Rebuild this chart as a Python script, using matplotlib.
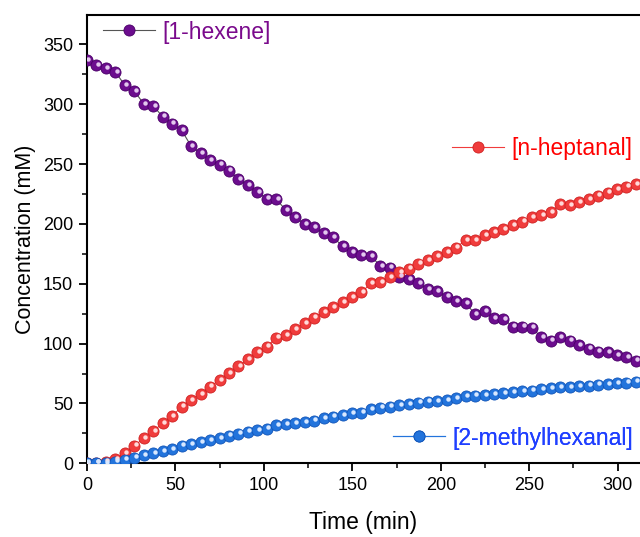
import numpy as np
import matplotlib
matplotlib.use("Agg")
import matplotlib.pyplot as plt
from matplotlib.lines import Line2D
from matplotlib.ticker import MultipleLocator
import matplotlib.transforms as mtransforms

plt.rcParams['font.family'] = ['Liberation Sans', 'DejaVu Sans']

dt = 5.35
time_min = [round(i * dt, 2) for i in range(59)]

hexene = [337, 332.6, 330, 326.9, 315.8, 311, 300.2, 298.5, 289.6, 283.7,
          278.2, 265, 259, 253.4, 249.5, 244.4, 237.5, 232.2, 226.7, 221,
          220.6, 211.6, 205.6, 199.7, 197.2, 192.1, 188.8, 181.5, 176.5, 173.8,
          173.2, 164.8, 163.4, 155.9, 154, 150.4, 145.6, 143.9, 139.2, 135.6,
          133.7, 124.8, 127.0, 121.4, 120.6, 114.1, 114.1, 113.3, 105.3, 102.4,
          105.3, 102.4, 98.8, 95.7, 93.2, 92.7, 90.2, 88.6, 85.7]

heptanal = [0, 0.5, 1.3, 3.6, 8.4, 14.7, 20.9, 27, 33.4, 39.5,
            47.3, 52.9, 58.1, 64, 69.6, 75.2, 81, 86.9, 92.7, 97.4,
            104.9, 107.2, 112.4, 117, 121.6, 126.1, 130.3, 134.5, 138.7, 142.8,
            150.4, 151.2, 155.4, 159.8, 162.6, 166.8, 169.8, 173.2, 176.5, 180.1,
            186.5, 186.5, 190.7, 193, 195.6, 199.1, 201.8, 205.5, 207.4, 209.7,
            216.6, 215.8, 218, 220.8, 223.6, 226.1, 228.9, 231.1, 233.3]

methylhexanal = [0.6, 0.5, 0.4, 1.4, 3.0, 4.7, 6.7, 8.4, 10.0, 11.7,
                 14.7, 16.2, 17.6, 19.5, 21.2, 23.2, 24.7, 26.4, 27.6, 28.9,
                 31.7, 32.6, 33.7, 34.5, 35.6, 37.6, 38.9, 40.4, 41.8, 42.3,
                 45.4, 46.5, 47.3, 48.5, 49.6, 50.6, 51.5, 52.1, 52.9, 54.3,
                 56.2, 56.5, 57.1, 57.9, 58.5, 59.6, 60.2, 60.7, 62.1, 62.7,
                 63.5, 63.8, 64.3, 64.8, 65.7, 66.3, 66.8, 67.3, 68.2]

labels = ['[1-hexene]', '[n-heptanal]', '[2-methylhexanal]']

series = [
    dict(y=hexene, face='#6C0D8E', edge='#4A0068', hl='#E3C8EE', line='#555555', text='#7A0A8C'),
    dict(y=heptanal, face='#F03C3C', edge='#D02222', hl='#FFDADA', line='#F03C3C', text='#FF0000'),
    dict(y=methylhexanal, face='#2374DC', edge='#1255B8', hl='#D8E8FF', line='#2374DC', text='#1F3FFF'),
]

fig = plt.figure(figsize=(6.4, 5.37), dpi=100)
ax = fig.add_axes([87/640, 1 - 463.3/537, 1 - 87/640, (463.3 - 15)/537])

hl_trans = mtransforms.offset_copy(ax.transData, fig=fig, x=0.9, y=0.9, units='points')

for s in series:
    ax.plot(time_min, s['y'], '-', color=s['line'], lw=0.8, zorder=2)
    ax.plot(time_min, s['y'], 'o', ms=8, mfc=s['face'], mec=s['edge'], mew=0.6,
            ls='none', zorder=3)
    ax.plot(time_min, s['y'], 'o', ms=3.2, mfc=s['hl'], mec='none', ls='none',
            transform=hl_trans, zorder=4)

ax.set_xlim(0, 312.6)
ax.set_ylim(0, 374.5)
ax.xaxis.set_major_locator(MultipleLocator(50))
ax.xaxis.set_minor_locator(MultipleLocator(25))
ax.yaxis.set_major_locator(MultipleLocator(50))
ax.yaxis.set_minor_locator(MultipleLocator(25))
ax.tick_params(which='major', direction='out', length=6, width=1.3, labelsize=13,
               top=False, right=False, pad=4)
ax.tick_params(which='minor', direction='out', length=3.5, width=1.1,
               top=False, right=False)
for sp in ['left', 'bottom', 'top']:
    ax.spines[sp].set_linewidth(1.5)
ax.spines['right'].set_visible(False)

ax.set_xlabel('Time (min)', fontsize=16.5, labelpad=12)
ax.set_ylabel('Concentration (mM)', fontsize=15.5, labelpad=5)

# legends: anchor = (line start x, marker y) in figure pixels
anchors = [(103, 32), (452, 149), (393, 438)]
for s, lab, anc in zip(series, labels, anchors):
    h = Line2D([], [], color=s['line'], lw=0.8, marker='o', ms=8,
               mfc=s['face'], mec=s['edge'], mew=0.6)
    leg = ax.legend([h], [lab], loc='center left',
                    bbox_to_anchor=(anc[0]/640, 1 - anc[1]/537),
                    bbox_transform=fig.transFigure, frameon=False,
                    fontsize=16.5, handlelength=2.27, handletextpad=0.3,
                    borderpad=0, borderaxespad=0, labelcolor=s['text'])
    ax.add_artist(leg)

fig.savefig('out.png', dpi=100)
